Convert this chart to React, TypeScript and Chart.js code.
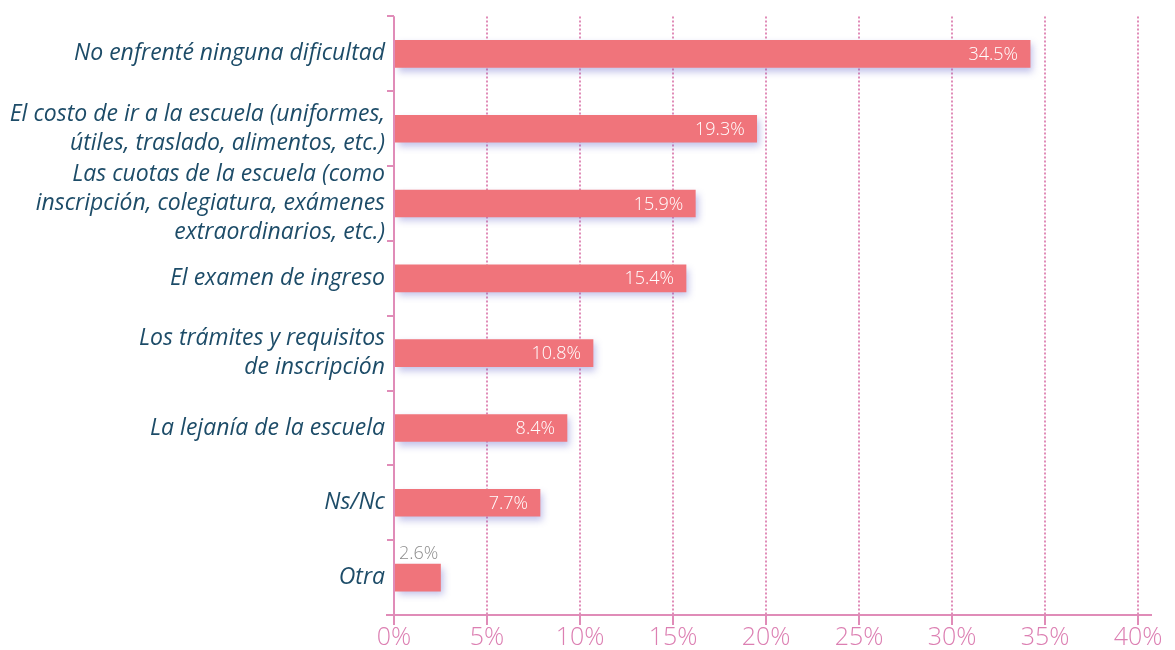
import React, { useEffect, useRef } from "react";
import { Chart, registerables } from "chart.js";

Chart.register(...registerables);

const categories: (string | string[])[] = [
  "No enfrenté ninguna dificultad",
  ["El costo de ir a la escuela (uniformes,", "útiles, traslado, alimentos, etc.)"],
  ["Las cuotas de la escuela (como", "inscripción, colegiatura, exámenes", "extraordinarios, etc.)"],
  "El examen de ingreso",
  ["Los trámites y requisitos", "de inscripción"],
  "La lejanía de la escuela",
  "Ns/Nc",
  "Otra",
];
const barValues = [34.2, 19.5, 16.2, 15.7, 10.7, 9.3, 7.85, 2.5];
const valueLabels = ["34.5%", "19.3%", "15.9%", "15.4%", "10.8%", "8.4%", "7.7%", "2.6%"];
const xTicks = [0, 5, 10, 15, 20, 25, 30, 35, 40];

const PINK = "#e08cb8";
const TICKTEXT = "#dc7fb2";
const BAR = "#f0747b";
const TEXT = "#1d4c68";
const FONT = "'Open Sans', 'Noto Sans', sans-serif";

export default function App() {
  const ref = useRef<HTMLCanvasElement | null>(null);
  useEffect(() => {
    document.body.style.margin = "0";
    const canvas = ref.current!;
    const shadowPlugin = {
      id: "barShadow",
      beforeDatasetsDraw(chart: any) {
        const ctx = chart.ctx;
        ctx.save();
        ctx.shadowColor = "rgba(95, 95, 200, 0.38)";
        ctx.shadowBlur = 7;
        ctx.shadowOffsetX = 3;
        ctx.shadowOffsetY = 4;
      },
      afterDatasetsDraw(chart: any) {
        const ctx = chart.ctx;
        ctx.restore();
        const meta = chart.getDatasetMeta(0);
        ctx.save();
        ctx.font = `300 18px ${FONT}`;
        ctx.textBaseline = "middle";
        meta.data.forEach((bar: any, i: number) => {
          const txt = valueLabels[i];
          if (i === meta.data.length - 1) {
            ctx.fillStyle = "#8c8c8c";
            ctx.textAlign = "left";
            ctx.fillText(txt, bar.base + 4, bar.y - 24);
          } else {
            ctx.fillStyle = "#ffffff";
            ctx.textAlign = "right";
            ctx.fillText(txt, bar.x - 12, bar.y + 1);
          }
        });
        ctx.restore();
      },
      afterDraw(chart: any) {
        const ctx = chart.ctx;
        const a = chart.chartArea;
        ctx.save();
        ctx.strokeStyle = PINK;
        ctx.lineWidth = 2;
        ctx.beginPath();
        ctx.moveTo(a.left - 8, a.bottom);
        ctx.lineTo(a.right + 14, a.bottom);
        ctx.stroke();
        ctx.beginPath();
        ctx.moveTo(a.left, a.top);
        ctx.lineTo(a.left, a.bottom + 10);
        ctx.stroke();
        ctx.restore();
      },
    };
    const chart = new Chart(canvas, {
      type: "bar",
      data: {
        labels: categories,
        datasets: [
          {
            data: barValues,
            backgroundColor: BAR,
            barThickness: 27,
            borderWidth: 0,
          },
        ],
      },
      options: {
        indexAxis: "y",
        animation: false,
        responsive: false,
        maintainAspectRatio: false,
        layout: { padding: { top: 13, right: 37, left: 0, bottom: 0 } },
        plugins: { legend: { display: false }, tooltip: { enabled: false } },
        scales: {
          x: {
            min: 0,
            max: 40,
            afterBuildTicks(scale: any) {
              scale.ticks = xTicks.map((v) => ({ value: v }));
            },
            afterFit(scale: any) {
              scale.height = 35;
            },
            grid: {
              color: PINK,
              lineWidth: 2,
              tickLength: 10,
              tickColor: PINK,
              tickWidth: 2,
              tickBorderDash: [],
            },
            border: { display: false, dash: [2, 2] },
            ticks: {
              color: TICKTEXT,
              padding: -2,
              autoSkip: false,
              maxRotation: 0,
              font: { family: FONT, size: 25, weight: "300" },
              callback: (v: any) => `${v}%`,
            },
          },
          y: {
            afterFit(scale: any) {
              scale.width = 394;
            },
            grid: {
              offset: true,
              drawOnChartArea: false,
              color: PINK,
              lineWidth: 2,
              tickLength: 7,
            },
            border: { display: false },
            ticks: {
              color: TEXT,
              padding: 2,
              autoSkip: false,
              font: { family: FONT, size: 23, style: "italic", lineHeight: 1.26 },
            },
          },
        },
      },
      plugins: [shadowPlugin],
    });
    return () => chart.destroy();
  }, []);
  return <canvas ref={ref} width={1175} height={650} style={{ display: "block" }} />;
}
